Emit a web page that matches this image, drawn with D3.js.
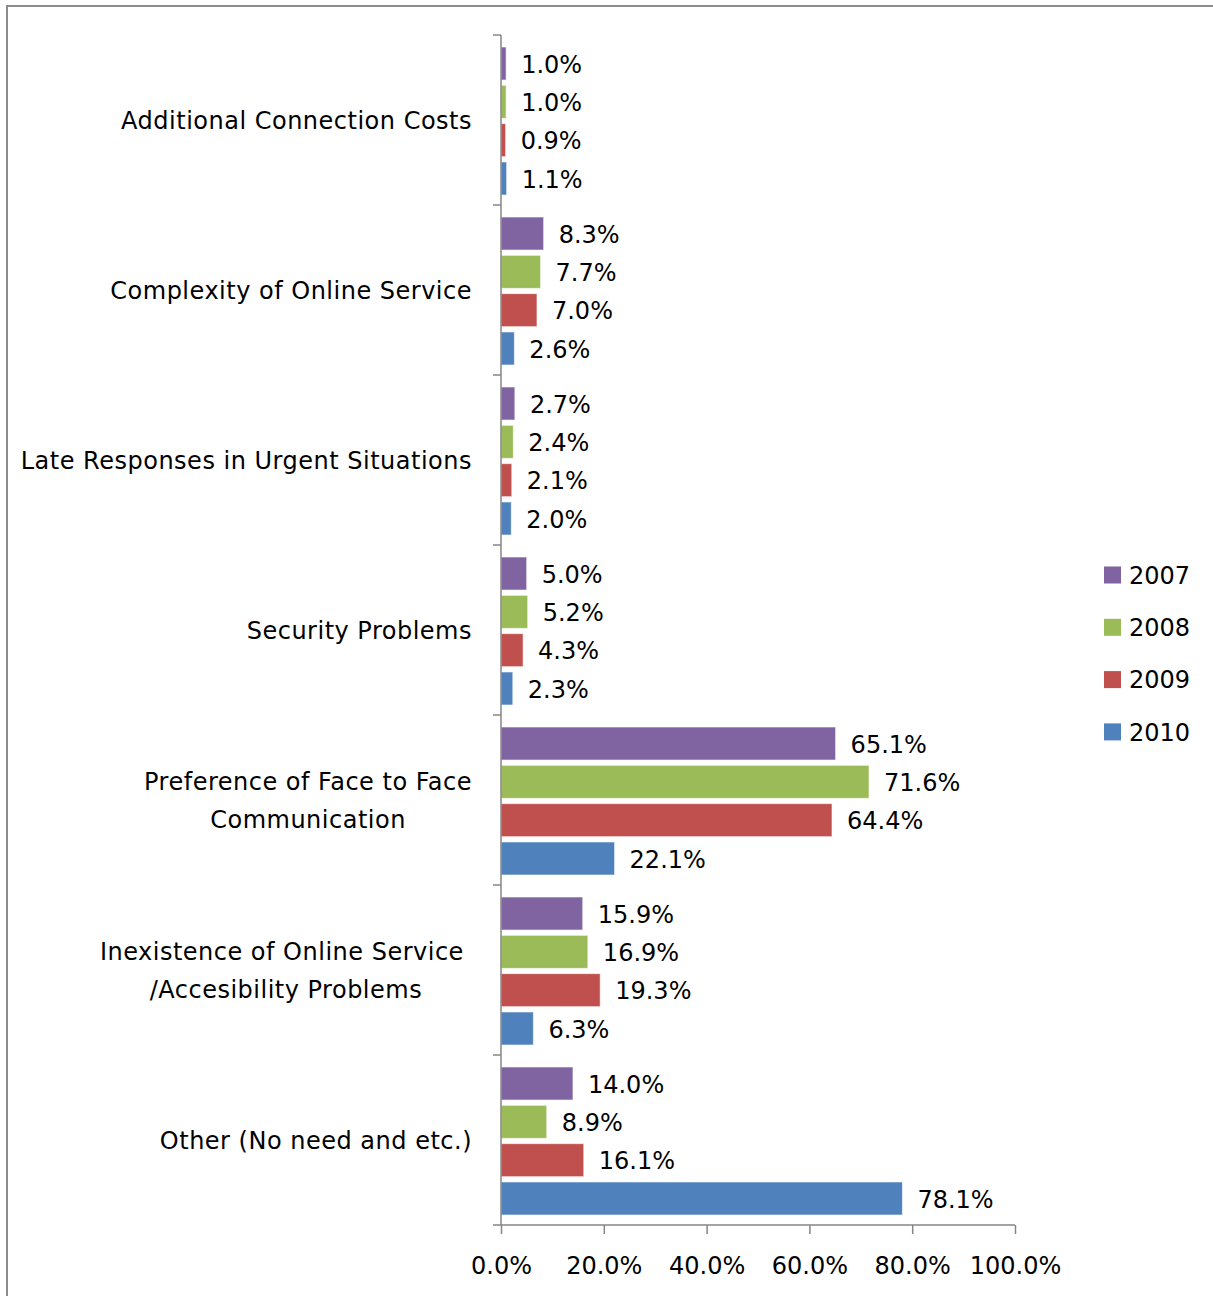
<!DOCTYPE html>
<html>
<head>
<meta charset="utf-8">
<script src="https://cdn.jsdelivr.net/npm/d3@7"></script>
<style>
	body { margin: 0; background: #fff; }
	text { font-family: "DejaVu Sans", sans-serif; fill: #000; }
</style>
</head>
<body>
<div id="chart"></div>
<script>
// categories and series
var categories = [
	"Additional Connection Costs",
	"Complexity of Online Service",
	"Late Responses in Urgent Situations",
	"Security Problems",
	"Preference of Face to Face\nCommunication",
	"Inexistence of Online Service\u00a0\n/Accesibility Problems",
	"Other (No need and etc.)"
];
var years = ["2007", "2008", "2009", "2010"];
var values2007 = [1.0, 8.3, 2.7, 5.0, 65.1, 15.9, 14.0];
var values2008 = [1.0, 7.7, 2.4, 5.2, 71.6, 16.9, 8.9];
var values2009 = [0.9, 7.0, 2.1, 4.3, 64.4, 19.3, 16.1];
var values2010 = [1.1, 2.6, 2.0, 2.3, 22.1, 6.3, 78.1];
var xTicks = [0, 20, 40, 60, 80, 100];

var colors = ["#8064A2", "#9BBB59", "#C0504D", "#4F81BD"];
var seriesValues = [values2007, values2008, values2009, values2010];

var width = 1213;
var height = 1296;
var pctFormat = d3.format(".1f");

var svg = d3.select("#chart")
	.append("svg")
	.attr("width", width)
	.attr("height", height);

// outer frame (runs off the right and bottom edges)
svg.append("rect")
	.attr("x", 7)
	.attr("y", 6)
	.attr("width", width + 20)
	.attr("height", height + 20)
	.style("fill", "none")
	.style("stroke", "#8c8c8c")
	.style("stroke-width", 2);

// scales
var x = d3.scaleLinear().domain([0, 100]).range([501, 1015]);
var y = d3.scaleBand().domain(categories).range([35, 1225]);
var yInner = d3.scaleBand().domain(years).range([12, 160]).paddingInner(0.138);

// flatten into rows for drawing
var rows = [];
categories.forEach(function (c, i) {
	years.forEach(function (yr, j) {
		rows.push({ cat: c, year: yr, value: seriesValues[j][i], color: colors[j] });
	});
});

// bars
svg.selectAll("rect.bar")
	.data(rows)
	.enter()
	.append("rect")
	.attr("class", "bar")
	.attr("x", x(0))
	.attr("y", function (d) { return y(d.cat) + yInner(d.year); })
	.attr("width", function (d) { return x(d.value) - x(0); })
	.attr("height", yInner.bandwidth())
	.style("fill", function (d) { return d.color; })
	.style("stroke", "rgba(255,255,255,0.6)")
	.style("stroke-width", 1);

// value labels
svg.selectAll("text.val")
	.data(rows)
	.enter()
	.append("text")
	.attr("class", "val")
	.attr("x", function (d) { return x(d.value) + 15; })
	.attr("y", function (d) { return y(d.cat) + yInner(d.year) + yInner.bandwidth() / 2; })
	.attr("dy", "0.38em")
	.style("font-size", "24px")
	.text(function (d) { return pctFormat(d.value) + "%"; });

// y axis: line + ticks on band boundaries
var axisColor = "#868686";
svg.append("line")
	.attr("x1", x(0)).attr("x2", x(0))
	.attr("y1", y.range()[0]).attr("y2", y.range()[1])
	.style("stroke", axisColor).style("stroke-width", 1.5);

var boundaries = categories.map(function (c) { return y(c); });
svg.selectAll("line.ytick")
	.data(boundaries)
	.enter()
	.append("line")
	.attr("x1", x(0) - 8).attr("x2", x(0))
	.attr("y1", function (d) { return d; }).attr("y2", function (d) { return d; })
	.style("stroke", axisColor).style("stroke-width", 1.5);

// category labels (multi-line centred, block right-aligned to the axis)
var catLabels = svg.selectAll("g.cat")
	.data(categories)
	.enter()
	.append("g")
	.attr("class", "cat");

catLabels.each(function (c) {
	var g = d3.select(this);
	var lines = c.split("\n");
	var cy = y(c) + y.bandwidth() / 2;
	var t = g.append("text")
		.style("font-size", "24px")
		.style("letter-spacing", "0.5px")
		.attr("text-anchor", "middle");
	lines.forEach(function (l, k) {
		t.append("tspan")
			.attr("x", 0)
			.attr("y", cy + (k - (lines.length - 1) / 2) * 38)
			.attr("dy", "0.36em")
			.text(l);
	});
	var w = t.node().getBBox().width;
	t.selectAll("tspan").attr("x", 472 - w / 2);
});

// x axis
var xAxis = d3.axisBottom(x)
	.tickValues(xTicks)
	.tickSize(9)
	.tickPadding(23)
	.tickFormat(function (d) { return pctFormat(d) + "%"; });

var gx = svg.append("g")
	.attr("transform", "translate(0,1225)")
	.call(xAxis);
gx.select(".domain")
	.attr("d", "M" + (x(0) - 8) + ",0H" + x(100))
	.style("stroke", axisColor).style("stroke-width", 1.5);
gx.selectAll(".tick line").style("stroke", axisColor).style("stroke-width", 1.5);
gx.selectAll(".tick text")
	.style("font-size", "24px")
	.style("font-family", "DejaVu Sans, sans-serif")
	.style("fill", "#000");

// legend
var legend = svg.selectAll("g.legend")
	.data(years)
	.enter()
	.append("g")
	.attr("class", "legend")
	.attr("transform", function (d, i) { return "translate(1104," + (575 + i * 52.3) + ")"; });

legend.append("rect")
	.attr("x", 0)
	.attr("y", -8.5)
	.attr("width", 17)
	.attr("height", 17)
	.style("fill", function (d, i) { return colors[i]; });

legend.append("text")
	.attr("x", 25)
	.attr("y", 0)
	.attr("dy", "0.36em")
	.style("font-size", "24px")
	.text(function (d) { return d; });
</script>
</body>
</html>
